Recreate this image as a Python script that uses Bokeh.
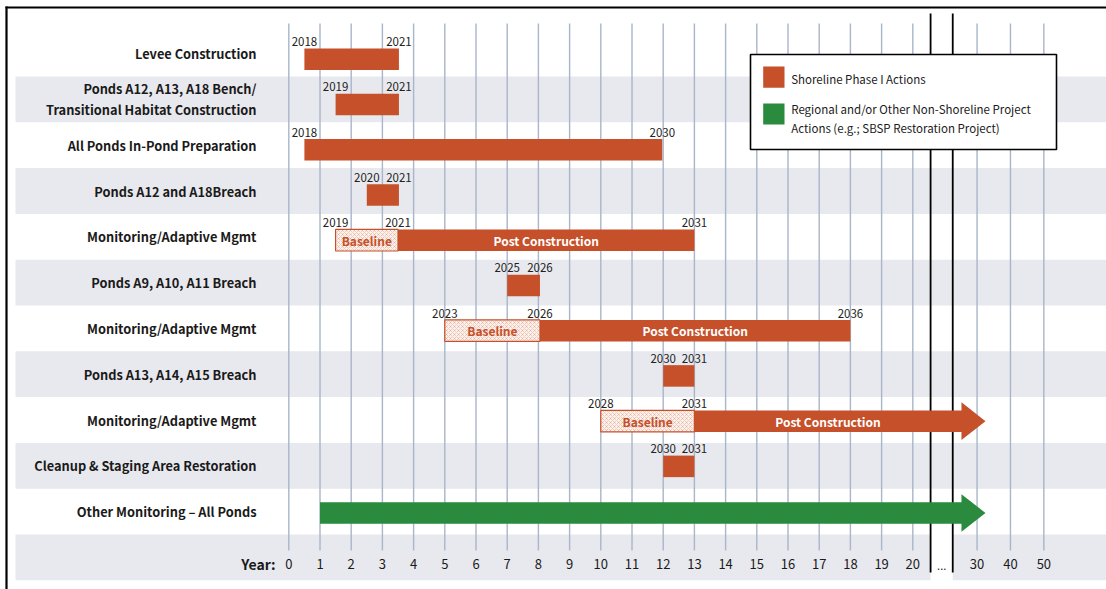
from bokeh.plotting import figure
from bokeh.models import Range1d
from bokeh.core.properties import value
from bokeh.embed import file_html
from bokeh.resources import INLINE

# ---------------- data ----------------
tasks = [
    "Levee Construction",
    "Ponds A12, A13, A18 Bench/\nTransitional Habitat Construction",
    "All Ponds In-Pond Preparation",
    "Ponds A12 and A18Breach",
    "Monitoring/Adaptive Mgmt",
    "Ponds A9, A10, A11 Breach",
    "Monitoring/Adaptive Mgmt",
    "Ponds A13, A14, A15 Breach",
    "Monitoring/Adaptive Mgmt",
    "Cleanup & Staging Area Restoration",
    "Other Monitoring \u2013 All Ponds",
]
# positions on the "Year" axis (project year)
start_pos = [0.5, 1.5, 0.5, 2.5, 1.5, 7.0, 5.0, 12.0, 10.0, 12.0, 1.0]
baseline_end = [None, None, None, None, 3.5, None, 8.05, None, 13.0, None, None]
end_pos = [3.53, 3.53, 11.97, 3.53, 13.0, 8.05, 18.0, 13.0, 21.56, 13.0, 21.56]
has_arrow = [False, False, False, False, False, False, False, False, True, False, True]
group = ["shoreline"] * 10 + ["regional"]

start_year = ["2018", "2019", "2018", "2020", "2019", "2025", "2023", "2030", "2028", "2030", ""]
mid_year = ["", "", "", "", "2021", "", "2026", "", "2031", "", ""]
end_year = ["2021", "2021", "2030", "2021", "2031", "2026", "2036", "2031", "", "2031", ""]

tick_labels = [str(i) for i in range(21)] + ["30", "40", "50"]
tick_pos = [float(i) for i in range(21)] + [22.06, 23.13, 24.2]
break_pos = [20.57, 21.28]

legend_labels = ["Shoreline Phase I Actions",
                 "Regional and/or Other Non-Shoreline Project",
                 "Actions (e.g.; SBSP Restoration Project)"]

# ---------------- style ----------------
ORANGE = "#C5502A"
GREEN = "#2A8A3D"
BAND = "#E8E9EE"
GRID = "#A9B5C9"
FONT = "Noto Sans CJK SC"

W, H = 1106, 589


def ux(px):
    return (px - 288.3) / 31.2


def ry(py):
    return (py - 53.1) / 45.8


X0, X1 = ux(0), ux(W)
Y_TOP, Y_BOT = ry(0), ry(H)

p = figure(width=W, height=H, x_range=Range1d(X0, X1), y_range=Range1d(Y_BOT, Y_TOP),
           x_axis_type=None, y_axis_type=None, output_backend="svg",
           toolbar_location=None, min_border=0)
p.outline_line_color = None
p.grid.visible = False
p.background_fill_color = "white"
p.border_fill_color = "white"

n = len(tasks)
rows = list(range(n))

# alternating bands
band_rows = [r for r in rows if r % 2 == 1]
p.quad(left=[ux(15)] * len(band_rows), right=[X1 + 1] * len(band_rows),
       top=[r - 0.5 for r in band_rows], bottom=[r + 0.5 for r in band_rows],
       fill_color=BAND, line_color=None)
yr_row = n  # the year row
p.quad(left=[ux(15), break_pos[1]], right=[break_pos[0], X1 + 1],
       top=[yr_row - 0.5] * 2, bottom=[yr_row + 0.5] * 2, fill_color=BAND, line_color=None)

# vertical grid lines
p.segment(x0=tick_pos, x1=tick_pos, y0=[ry(23)] * len(tick_pos), y1=[ry(550)] * len(tick_pos),
          line_color=GRID, line_width=1.4)
# axis break lines
p.segment(x0=break_pos, x1=break_pos, y0=[ry(13)] * 2, y1=[ry(572)] * 2,
          line_color="black", line_width=1.8)

# picture border (top / left)
p.segment(x0=[ux(5), ux(6)], x1=[X1 + 1, ux(6)], y0=[ry(7), ry(6)], y1=[ry(7), Y_BOT + 1],
          line_color="black", line_width=2.2)

# bars
BAR_H = 0.47
bar_y = [r + 0.125 - 0.0125 * r for r in rows]
col = [ORANGE if g == "shoreline" else GREEN for g in group]

plain = [i for i in rows if baseline_end[i] is None and not has_arrow[i]]
p.hbar(y=[bar_y[i] for i in plain], left=[start_pos[i] for i in plain],
       right=[end_pos[i] for i in plain], height=BAR_H,
       fill_color=[col[i] for i in plain], line_color=None)

base = [i for i in rows if baseline_end[i] is not None]
post = [i for i in base if not has_arrow[i]]
p.hbar(y=[bar_y[i] for i in post], left=[baseline_end[i] for i in post],
       right=[end_pos[i] for i in post], height=BAR_H,
       fill_color=[col[i] for i in post], line_color=None)

# arrows
HEAD_LEN = 0.77
HEAD_HALF = 0.41
axs, ays, acol = [], [], []
for i in rows:
    if not has_arrow[i]:
        continue
    s = baseline_end[i] if baseline_end[i] is not None else start_pos[i]
    e = end_pos[i]
    c = bar_y[i] if baseline_end[i] is not None else i + 0.03
    h = BAR_H / 2
    axs.append([s, e, e, e + HEAD_LEN, e, e, s])
    ays.append([c - h, c - h, c - HEAD_HALF, c, c + HEAD_HALF, c + h, c + h])
    acol.append(col[i])
p.patches(xs=axs, ys=ays, fill_color=acol, line_color=None)

# baseline (hatched) parts
p.hbar(y=[bar_y[i] for i in base], left=[start_pos[i] for i in base],
       right=[baseline_end[i] for i in base], height=BAR_H,
       fill_color="#FCF1EB", line_color=ORANGE, line_width=1.2,
       hatch_pattern="x", hatch_color=ORANGE, hatch_alpha=0.33, hatch_scale=4, hatch_weight=0.7)

# in-bar text
p.text(x=[(start_pos[i] + baseline_end[i]) / 2 for i in base], y=[bar_y[i] for i in base],
       text=["Baseline"] * len(base), text_font=value(FONT), text_font_style="bold",
       text_font_size="12px", text_color=ORANGE, text_align="center", text_baseline="middle")
p.text(x=[(baseline_end[i] + end_pos[i]) / 2 for i in base], y=[bar_y[i] for i in base],
       text=["Post Construction"] * len(base), text_font=value(FONT), text_font_style="bold",
       text_font_size="12px", text_color="white", text_align="center", text_baseline="middle")

# year labels above bars
lx, ly, lt = [], [], []
for i in rows:
    ytop = bar_y[i] - BAR_H / 2 - 0.15
    for xx, tt in ((start_pos[i], start_year[i]), (baseline_end[i], mid_year[i]), (end_pos[i], end_year[i])):
        if tt and xx is not None:
            lx.append(xx); ly.append(ytop); lt.append(tt)
p.text(x=lx, y=ly, text=lt, text_font=value(FONT), text_font_size="11.5px",
       text_color="#222222", text_align="center", text_baseline="middle")

# task labels (multi-line labels split into separate lines)
LINE_GAP = 0.46
tx, ty, tt_ = [], [], []
for r, t in zip(rows, tasks):
    parts = t.split("\n")
    for k, part in enumerate(parts):
        tx.append(ux(256))
        ty.append(r + (k - (len(parts) - 1) / 2) * LINE_GAP)
        tt_.append(part)
p.text(x=tx, y=ty, text=tt_, text_font=value(FONT),
       text_font_style="bold", text_font_size="12.8px", text_color="#1a1a1a",
       text_align="right", text_baseline="middle")

# year axis row
yr_y = ry(563)
p.text(x=tick_pos, y=[yr_y] * len(tick_pos), text=tick_labels, text_font=value(FONT),
       text_font_size="13px", text_color="#1a1a1a", text_align="center", text_baseline="middle")
p.text(x=[ux(275)], y=[yr_y], text=["Year:"], text_font=value(FONT), text_font_style="bold",
       text_font_size="14px", text_color="#1a1a1a", text_align="right", text_baseline="middle")
p.text(x=[(break_pos[0] + break_pos[1]) / 2], y=[yr_y + 0.05], text=["..."], text_font=value(FONT),
       text_font_size="11px", text_color="#1a1a1a", text_align="center", text_baseline="middle")

# legend box
p.quad(left=[ux(750)], right=[ux(1056)], top=[ry(54)], bottom=[ry(149)],
       fill_color="white", line_color="black", line_width=1.6)
p.quad(left=[ux(762.7)] * 2, right=[ux(784)] * 2, top=[ry(66), ry(103)], bottom=[ry(87.3), ry(124)],
       fill_color=[ORANGE, GREEN], line_color=None)
p.text(x=[ux(790.7)] * 3, y=[ry(78), ry(108), ry(127)], text=legend_labels,
       text_font=value(FONT), text_font_size="11.5px", text_color="#1a1a1a",
       text_align="left", text_baseline="middle")

open("out.html", "w").write(file_html(p, INLINE))
